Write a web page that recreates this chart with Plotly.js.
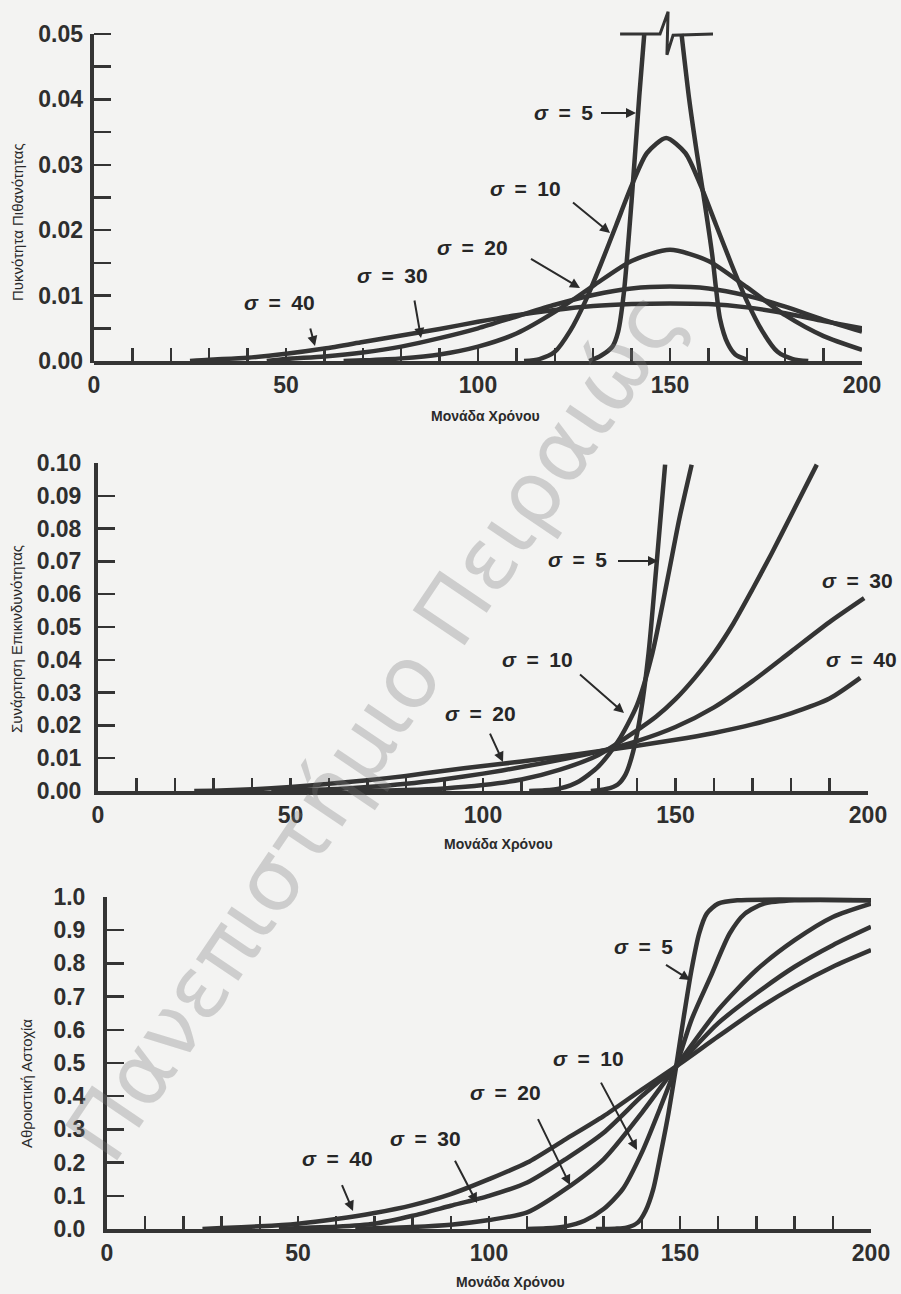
<!DOCTYPE html>
<html>
<head>
<meta charset="utf-8">
<script src="https://cdn.plot.ly/plotly-3.0.1.min.js"></script>
<style>html,body{margin:0;padding:0;background:#f3f3f2;}#chart{width:901px;height:1294px;}</style>
</head>
<body>
<div id="chart"></div>
<script>
// ---------- DATA ----------
// Panel 1: probability density
const pdfX5a = [129, 132, 135, 136.5, 138, 140, 142, 143.3];
const pdfY5a = [0, 0.0008, 0.0022, 0.0045, 0.0105, 0.0245, 0.0405, 0.0500];
const pdfX5b = [153, 155, 157, 159, 161, 162, 163, 165, 167, 170];
const pdfY5b = [0.0500, 0.0400, 0.0318, 0.0243, 0.0162, 0.0110, 0.0065, 0.0027, 0.0010, 0.0002];
const pdfCapX = [137, 147.4, 149.5, 149.2, 150.8, 161.2];
const pdfCapY = [0.0500, 0.0500, 0.0534, 0.0468, 0.0498, 0.0500];
const pdfX10 = [112, 116, 120, 124, 128, 132, 136, 140, 144, 149, 154, 158, 162, 166, 170, 174, 178, 182, 186];
const pdfY10 = [0, 0.0003, 0.0014, 0.0046, 0.0092, 0.0148, 0.0208, 0.0268, 0.0318, 0.0341, 0.0318, 0.0268, 0.0208, 0.0148, 0.0092, 0.0046, 0.0014, 0.0003, 0];
const pdfX20 = [65, 70, 80, 90, 100, 110, 120, 130, 140, 150, 160, 170, 180, 190, 200];
const pdfY20 = [0, 0.0001, 0.0004, 0.0010, 0.0022, 0.0042, 0.0075, 0.0115, 0.0153, 0.0170, 0.0153, 0.0113, 0.0070, 0.0038, 0.0017];
const pdfX30 = [45, 50, 60, 70, 80, 90, 100, 110, 120, 130, 140, 150, 160, 170, 180, 190, 200];
const pdfY30 = [0, 0.0003, 0.0007, 0.0013, 0.0022, 0.0035, 0.0050, 0.0068, 0.0086, 0.0101, 0.0111, 0.0114, 0.0111, 0.0100, 0.0083, 0.0063, 0.0045];
const pdfX40 = [25, 30, 40, 50, 60, 70, 80, 90, 100, 110, 120, 130, 140, 150, 160, 170, 180, 190, 200];
const pdfY40 = [0, 0.0002, 0.0005, 0.0011, 0.0019, 0.0029, 0.0039, 0.0049, 0.0060, 0.0070, 0.0078, 0.0084, 0.0087, 0.0088, 0.0087, 0.0082, 0.0073, 0.0061, 0.0050];

// Panel 2: hazard function
const hzX5 = [128, 132, 135, 137, 139, 141, 143, 145, 147.3];
const hzY5 = [0, 0.0006, 0.0020, 0.0050, 0.0120, 0.0240, 0.0420, 0.0680, 0.0995];
const hzX10 = [112, 116, 120, 125, 130, 135, 140, 144, 148, 151, 154.2];
const hzY10 = [0, 0.0002, 0.0008, 0.0030, 0.0075, 0.0150, 0.0262, 0.0420, 0.0650, 0.0830, 0.0995];
const hzX20 = [65, 70, 80, 90, 100, 110, 120, 130, 140, 145, 150, 155, 160, 165, 170, 175, 180, 186.7];
const hzY20 = [0, 0.0001, 0.0003, 0.0008, 0.0018, 0.0035, 0.0065, 0.0110, 0.0185, 0.0227, 0.0280, 0.0345, 0.0420, 0.0510, 0.0615, 0.0725, 0.0840, 0.0995];
const hzX30 = [45, 50, 60, 70, 80, 90, 100, 110, 120, 130, 140, 150, 160, 170, 180, 190, 199];
const hzY30 = [0, 0.0002, 0.0005, 0.0012, 0.0022, 0.0036, 0.0053, 0.0073, 0.0095, 0.0120, 0.0152, 0.0195, 0.0255, 0.0335, 0.0425, 0.0515, 0.0588];
const hzX40 = [25, 30, 40, 50, 60, 70, 80, 90, 100, 110, 120, 130, 140, 150, 160, 170, 180, 190, 198];
const hzY40 = [0, 0.0001, 0.0005, 0.0012, 0.0022, 0.0033, 0.0046, 0.0062, 0.0076, 0.0090, 0.0105, 0.0121, 0.0138, 0.0156, 0.0177, 0.0203, 0.0237, 0.0282, 0.0345];

// Panel 3: cumulative failure
const cdfX5 = [128, 133, 136, 139, 141, 143, 145, 147, 149, 151, 153, 155, 157, 160, 165, 200];
const cdfY5 = [0, 0.001, 0.004, 0.02, 0.055, 0.12, 0.23, 0.35, 0.49, 0.64, 0.78, 0.89, 0.95, 0.98, 0.99, 0.99];
const cdfX10 = [110, 115, 120, 125, 130, 135, 140, 145, 149, 153, 158, 163, 167, 172, 180, 200];
const cdfY10 = [0, 0.002, 0.008, 0.025, 0.06, 0.12, 0.23, 0.37, 0.49, 0.63, 0.76, 0.89, 0.95, 0.98, 0.99, 0.99];
const cdfX20 = [65, 70, 80, 90, 100, 110, 120, 130, 140, 149, 160, 170, 180, 190, 200];
const cdfY20 = [0, 0.002, 0.006, 0.013, 0.027, 0.05, 0.12, 0.21, 0.35, 0.49, 0.66, 0.78, 0.87, 0.94, 0.98];
const cdfX30 = [45, 50, 60, 70, 80, 90, 100, 110, 120, 130, 140, 149, 160, 170, 180, 190, 200];
const cdfY30 = [0, 0.003, 0.007, 0.016, 0.04, 0.07, 0.10, 0.14, 0.21, 0.29, 0.40, 0.49, 0.62, 0.71, 0.79, 0.855, 0.91];
const cdfX40 = [25, 30, 40, 50, 60, 70, 80, 90, 100, 110, 120, 130, 140, 149, 160, 170, 180, 190, 200];
const cdfY40 = [0, 0.003, 0.008, 0.016, 0.030, 0.048, 0.072, 0.105, 0.15, 0.20, 0.27, 0.34, 0.42, 0.49, 0.58, 0.66, 0.73, 0.79, 0.84];

const xTitle = 'Μονάδα Χρόνου';
const yTitle1 = 'Πυκνότητα Πιθανότητας';
const yTitle2 = 'Συνάρτηση Επικινδυνότητας';
const yTitle3 = 'Αθροιστική Αστοχία';
const sigmaLabels = ['5', '10', '20', '30', '40'];
const watermark = 'Πανεπιστήμιο Πειραιώς';

// ---------- STYLE ----------
const W = 901, H = 1294;
const FONT = 'Liberation Sans, Arial, Helvetica, sans-serif';
const INK = '#343434';
const BG = '#f3f3f2';
const px = v => v / W;
const py = v => 1 - v / H;

function curve(x, y, xa, ya) {
  return {x: x, y: y, xaxis: xa, yaxis: ya, type: 'scatter', mode: 'lines',
    line: {color: INK, width: 4.5, shape: 'spline', smoothing: 0.7},
    hoverinfo: 'skip', connectgaps: false};
}

const traces = [
  curve(pdfX5a, pdfY5a, 'x', 'y'),
  curve(pdfX5b, pdfY5b, 'x', 'y'),
  Object.assign(curve(pdfCapX, pdfCapY, 'x', 'y'), {line: {color: INK, width: 3, shape: 'linear'}}),
  curve(pdfX10, pdfY10, 'x', 'y'),
  curve(pdfX20, pdfY20, 'x', 'y'),
  curve(pdfX30, pdfY30, 'x', 'y'),
  curve(pdfX40, pdfY40, 'x', 'y'),
  curve(hzX5, hzY5, 'x2', 'y2'),
  curve(hzX10, hzY10, 'x2', 'y2'),
  curve(hzX20, hzY20, 'x2', 'y2'),
  curve(hzX30, hzY30, 'x2', 'y2'),
  curve(hzX40, hzY40, 'x2', 'y2'),
  curve(cdfX5, cdfY5, 'x3', 'y3'),
  curve(cdfX10, cdfY10, 'x3', 'y3'),
  curve(cdfX20, cdfY20, 'x3', 'y3'),
  curve(cdfX30, cdfY30, 'x3', 'y3'),
  curve(cdfX40, cdfY40, 'x3', 'y3')
];

const tickFont = {family: FONT, size: 23, color: '#2e2e2e', weight: 'bold'};

function xAxis(domain, anchor) {
  return {domain: domain, anchor: anchor, range: [0, 200], showline: true, linewidth: 4, linecolor: INK,
    mirror: false, zeroline: false, showgrid: false, ticks: 'inside', ticklen: 13, tickwidth: 2.5,
    tickcolor: INK, tick0: 0, dtick: 50, tickfont: tickFont, ticklabelstandoff: 0, fixedrange: true,
    minor: {dtick: 10, tick0: 0, ticks: 'inside', ticklen: 13, tickwidth: 2.5, tickcolor: INK, showgrid: false}};
}
function yAxis(domain, anchor, range, dtick, minorD, fmt, showline, standoff) {
  const a = {domain: domain, anchor: anchor, range: range, showline: showline, linewidth: 4, linecolor: INK,
    zeroline: false, showgrid: false, ticks: 'inside', ticklen: 17, tickwidth: 2.5, tickcolor: INK,
    tick0: 0, dtick: dtick, tickformat: fmt, tickfont: tickFont, ticklabelstandoff: standoff, fixedrange: true};
  if (minorD) a.minor = {dtick: minorD, tick0: 0, ticks: 'inside', ticklen: 17, tickwidth: 2.5, tickcolor: INK, showgrid: false};
  return a;
}

const annotations = [];
// watermark (drawn first, beneath other text)
annotations.push({xref: 'paper', yref: 'paper', x: px(374), y: py(726), xanchor: 'center', yanchor: 'middle',
  text: watermark, textangle: -56, showarrow: false,
  font: {family: 'DejaVu Sans, sans-serif', size: 86, color: 'rgba(120,120,120,0.30)'}});

function label(txt, cx, cy) {
  annotations.push({xref: 'paper', yref: 'paper', x: px(cx), y: py(cy), xanchor: 'center', yanchor: 'middle',
    text: '<i>σ</i>\u2002=\u2002' + txt, showarrow: false, font: {family: FONT, size: 21, color: '#262626', weight: 'bold'}});
}
function arrow(tx, ty, hx, hy) {
  annotations.push({xref: 'paper', yref: 'paper', x: px(hx), y: py(hy), ax: tx - hx, ay: ty - hy,
    text: ' ', showarrow: true, arrowhead: 2, arrowsize: 1, arrowwidth: 2, arrowcolor: '#2a2a2a',
    standoff: 0, startstandoff: 0});
}

// panel 1 labels
label(sigmaLabels[0], 563, 113); arrow(598, 113, 636, 113);
label(sigmaLabels[1], 525, 188); arrow(570, 200, 610, 233);
label(sigmaLabels[2], 472, 247); arrow(528, 257, 580, 288);
label(sigmaLabels[3], 392, 275); arrow(413, 292, 421, 338);
label(sigmaLabels[4], 279, 302); arrow(308, 320, 315, 346);
// panel 2 labels
label(sigmaLabels[0], 577, 560); arrow(615, 561, 658, 561);
label(sigmaLabels[1], 537, 659); arrow(577, 672, 624, 713);
label(sigmaLabels[2], 480, 713); arrow(487, 727, 503, 762);
label(sigmaLabels[3], 857, 580);
label(sigmaLabels[4], 861, 659);
// panel 3 labels
label(sigmaLabels[0], 643, 946); arrow(663, 963, 690, 980);
label(sigmaLabels[1], 588, 1058); arrow(598, 1077, 637, 1150);
label(sigmaLabels[2], 505, 1092); arrow(535, 1113, 570, 1185);
label(sigmaLabels[3], 425, 1138); arrow(452, 1155, 477, 1203);
label(sigmaLabels[4], 337, 1158); arrow(339, 1178, 353, 1211);

// axis titles
const xtFont = {family: FONT, size: 14, color: '#2a2a2a', weight: 'bold'};
const ytFont = {family: FONT, size: 15, color: '#2a2a2a'};
annotations.push({xref: 'paper', yref: 'paper', x: px(485), y: py(416), text: xTitle, showarrow: false, font: xtFont, xanchor: 'center', yanchor: 'middle'});
annotations.push({xref: 'paper', yref: 'paper', x: px(499), y: py(844), text: xTitle, showarrow: false, font: xtFont, xanchor: 'center', yanchor: 'middle'});
annotations.push({xref: 'paper', yref: 'paper', x: px(510), y: py(1282), text: xTitle, showarrow: false, font: xtFont, xanchor: 'center', yanchor: 'middle'});
annotations.push({xref: 'paper', yref: 'paper', x: px(17), y: py(222), text: yTitle1, textangle: -90, showarrow: false, font: ytFont, xanchor: 'center', yanchor: 'middle'});
annotations.push({xref: 'paper', yref: 'paper', x: px(16), y: py(639), text: yTitle2, textangle: -90, showarrow: false, font: ytFont, xanchor: 'center', yanchor: 'middle'});
annotations.push({xref: 'paper', yref: 'paper', x: px(26), y: py(1084), text: yTitle3, textangle: -90, showarrow: false, font: ytFont, xanchor: 'center', yanchor: 'middle'});

const d1x = [px(94), px(862)], d1y = [py(361), py(7.8)];
const d2x = [px(98), px(868)], d2y = [py(791), py(463)];
const d3x = [px(107), px(871)], d3y = [py(1229), py(897)];

const layout = {
  width: W, height: H, margin: {l: 0, r: 0, t: 0, b: 0},
  paper_bgcolor: BG, plot_bgcolor: BG, showlegend: false,
  font: {family: FONT, color: INK},
  xaxis: xAxis(d1x, 'y'),
  yaxis: yAxis(d1y, 'x', [0, 0.054], 0.01, 0.005, '.2f', false, 10),
  xaxis2: xAxis(d2x, 'y2'),
  yaxis2: yAxis(d2y, 'x2', [0, 0.1], 0.01, null, '.2f', true, 8),
  xaxis3: xAxis(d3x, 'y3'),
  yaxis3: yAxis(d3y, 'x3', [0, 1.0], 0.1, null, '.1f', true, 13),
  shapes: [
    {type: 'line', xref: 'paper', yref: 'paper', x0: px(92), x1: px(92), y0: py(363), y1: py(34),
     line: {color: INK, width: 4}}
  ],
  annotations: annotations
};

Plotly.newPlot('chart', traces, layout, {displayModeBar: false, staticPlot: true});
</script>
</body>
</html>
